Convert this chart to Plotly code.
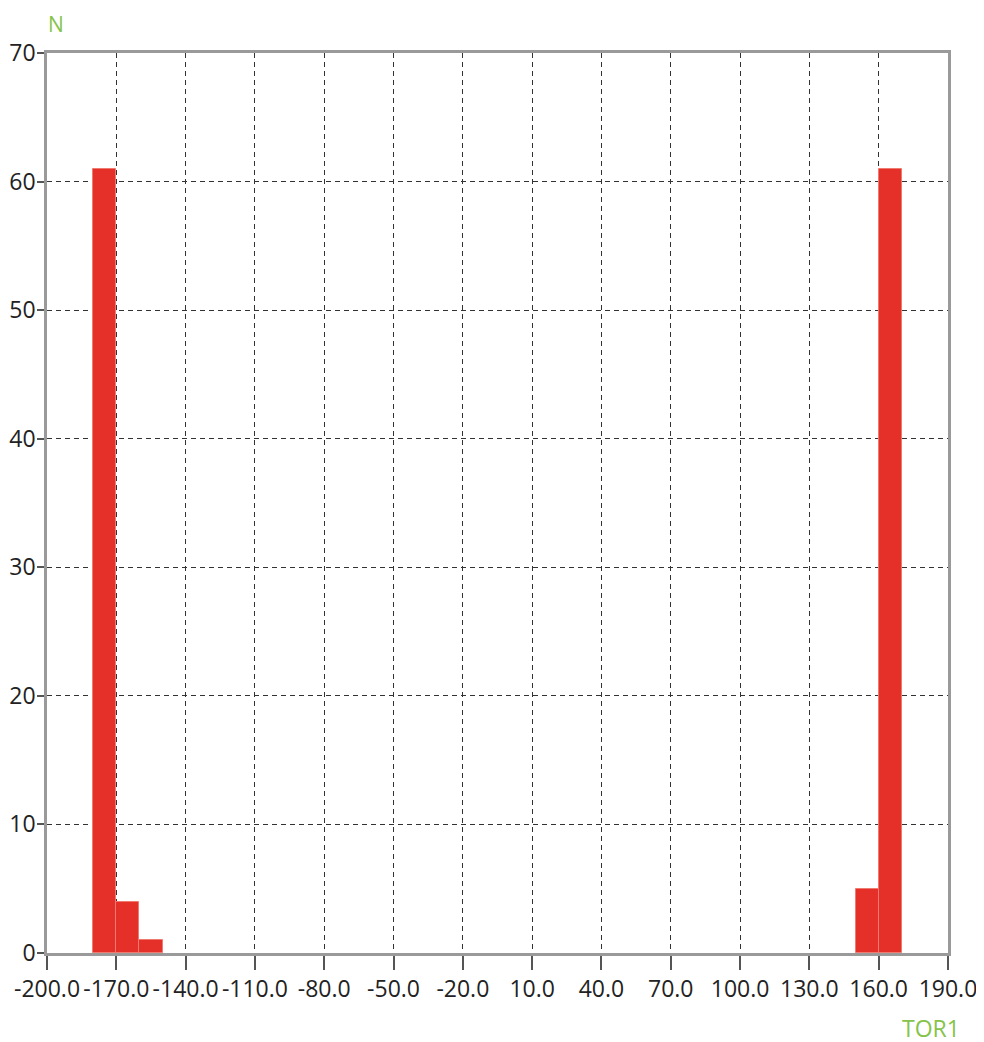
import plotly.graph_objects as go

# Histogram data (bin left edges, counts)
bin_left = [-180, -170, -160, 150, 160]
bin_width = 10
counts = [61, 4, 1, 5, 61]

x_ticks = [-200, -170, -140, -110, -80, -50, -20, 10, 40, 70, 100, 130, 160, 190]
x_tick_labels = [f"{v:.1f}" for v in x_ticks]
y_ticks = [0, 10, 20, 30, 40, 50, 60, 70]

W, H = 984, 1042
ML, MR, MT, MB = 39, 44, 45, 97  # page has 8px body margin

fig = go.Figure()
fig.add_trace(go.Bar(
    x=bin_left,
    y=counts,
    width=[bin_width] * len(bin_left),
    offset=0,
    marker=dict(color="#E5302A", line=dict(color="#F07A70", width=1)),
    hoverinfo="x+y",
))

axis_common = dict(
    showline=True, linecolor="#9a9a9a", linewidth=2.5, mirror=True,
    showgrid=True, gridcolor="#333333", gridwidth=1, griddash="5px,4px",
    zeroline=False, ticks="outside", tickcolor="#555555", tickwidth=1.5,
    tickfont=dict(family="Open Sans", size=23, color="#222222"),
    automargin=False,
)

fig.update_layout(
    width=W, height=H,
    margin=dict(l=ML, r=MR, t=MT, b=MB),
    plot_bgcolor="white", paper_bgcolor="white",
    showlegend=False, bargap=0,
    xaxis=dict(
        range=[-200, 190], tickmode="array", tickvals=x_ticks, ticktext=x_tick_labels,
        tickangle=0, ticklen=14, **axis_common,
    ),
    yaxis=dict(
        range=[0, 70], tickmode="array", tickvals=y_ticks, ticklen=7,
        ticklabelstandoff=-3, **axis_common,
    ),
)

# place annotations by screen pixel position (screen = figure + 8px body margin)
pw, ph = W - ML - MR, H - MT - MB
def px(xs, ys):
    xf, yf = xs - 8, ys - 8
    return (xf - ML) / pw, (H - MB - yf) / ph

ax, ay = px(56, 9)
bx, by = px(931, 1028)
fig.add_annotation(text="N", x=ax, y=ay, xref="paper", yref="paper", showarrow=False,
                   xanchor="center", yanchor="top", borderpad=0,
                   font=dict(family="Open Sans", size=21, color="#86C34A"))
fig.add_annotation(text="TOR1", x=bx, y=by, xref="paper", yref="paper", showarrow=False,
                   xanchor="center", yanchor="middle",
                   font=dict(family="Open Sans", size=23, color="#86C34A"))

fig.write_html("out.html")
